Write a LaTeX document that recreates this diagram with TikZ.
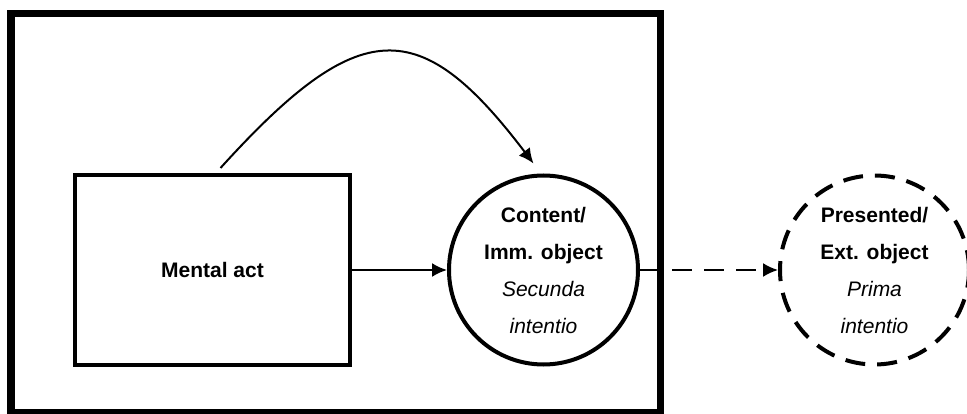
\documentclass[tikz,border=0pt]{standalone}
\usepackage{fontspec}
\setmainfont{Liberation Sans}
\usetikzlibrary{positioning, arrows.meta}

\begin{document}
\begin{tikzpicture}[x=1pt, y=-1pt, >={Latex[length=15pt,width=14pt]},
    every node/.style={align=center, font=\fontsize{21}{37}\selectfont},
    actbox/.style={draw, rectangle, line width=4pt, minimum width=275pt, minimum height=190pt},
    objcircle/.style={draw, circle, line width=4pt, minimum size=189pt, inner sep=0pt},
    extcircle/.style={objcircle, dash pattern=on 20pt off 12pt}]

    \useasboundingbox (0,0) rectangle (967,414);

    % Outer frame
    \draw[line width=7.5pt] (11,13.5) rectangle (660.5,413);

    % Act and objects
    \node[actbox] (act) at (212.5,270) {\textbf{Mental act}};
    \node[objcircle] (content) [right=95pt of act] {\textbf{Content/}\\\textbf{Imm. object}\\\textit{Secunda}\\\textit{intentio}};
    \node[extcircle] (presented) [right=138pt of content] {\textbf{Presented/}\\\textbf{Ext. object}\\\textit{Prima}\\\textit{intentio}};

    % Arrows
    \draw[->, line width=2pt] (act.east) -- (content.west);
    \draw[->, line width=2pt, dash pattern=on 20pt off 12pt] (content.east) -- (presented.west);
    \draw[->, line width=2pt] ([xshift=8pt,yshift=5pt]act.north) .. controls (360,14) and (420,14) .. ([xshift=-10pt,yshift=10pt]content.north);

\end{tikzpicture}
\end{document}
